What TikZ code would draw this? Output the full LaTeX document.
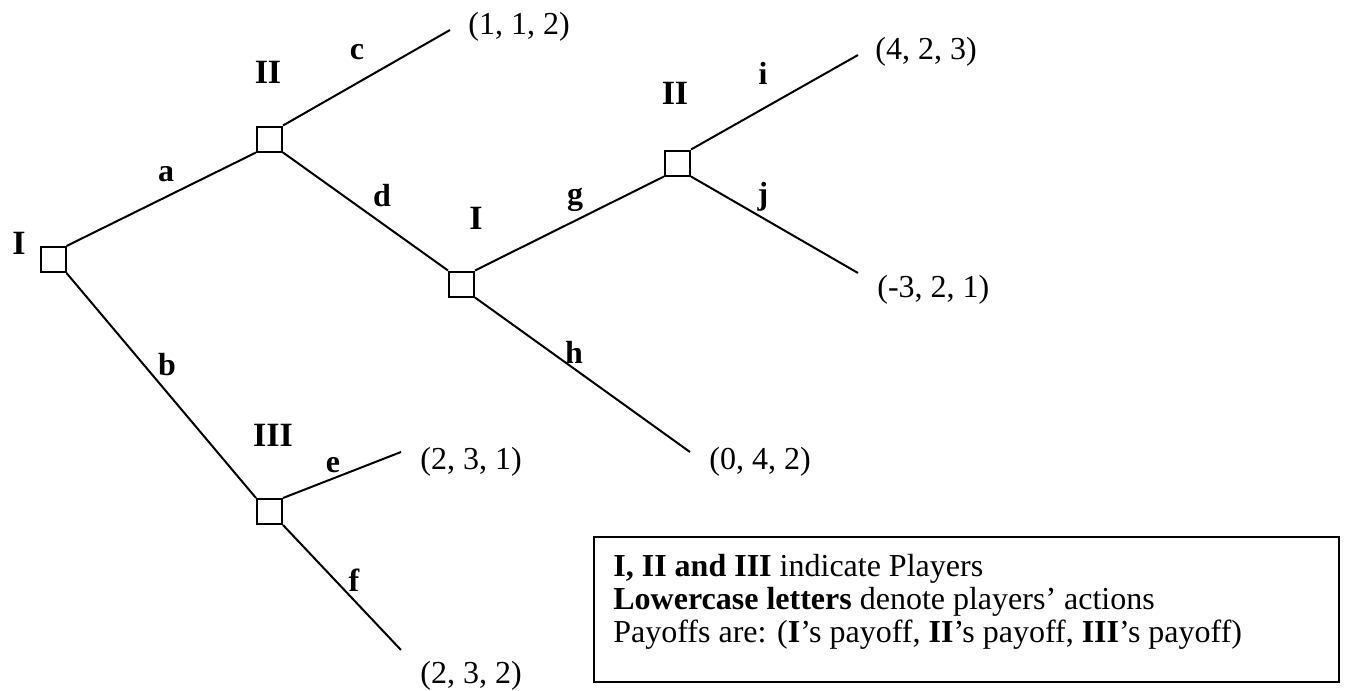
\documentclass[tikz,border=0pt]{standalone}
\usepackage{fontspec}
\setmainfont{Liberation Serif}

\tikzstyle{decision} = [rectangle, minimum size=12.5pt, inner sep=0pt, draw=black, line width=1pt, fill=white]
\tikzstyle{player} = [font=\bfseries\fontsize{17}{20}\selectfont, inner sep=0pt]
\tikzstyle{action} = [font=\bfseries\fontsize{16}{19}\selectfont, inner sep=0pt]
\tikzstyle{payoff} = [font=\fontsize{16}{19}\selectfont, inner sep=0pt, anchor=west]
\tikzstyle{legend} = [rectangle, draw=black, line width=1pt, minimum width=372.5pt, minimum height=72.5pt, inner sep=0pt]
\tikzstyle{legendtext} = [font=\fontsize{16}{16.5}\selectfont, inner sep=0pt, align=left, anchor=north west]
\tikzstyle{branch} = [line width=1pt]

\begin{document}
\begin{tikzpicture}[x=0.5pt, y=-0.5pt]
			\useasboundingbox (0,0) rectangle (1345,691);
			% decision nodes
			\node (root) [decision] at (53,259.5) {};
			\node (nodeII) [decision] at (269.5,139) {};
			\node (nodeIII) [decision] at (269.5,511.5) {};
			\node (nodeI) [decision] at (461.5,284) {};
			\node (nodeIIright) [decision] at (677.5,163) {};
			% ends of the last branches
			\coordinate (endC) at (450,30);
			\coordinate (endE) at (401,452);
			\coordinate (endF) at (401,650);
			\coordinate (endH) at (690,452);
			\coordinate (endI) at (858,55);
			\coordinate (endJ) at (858,273);
			% players
			\node (playerRoot) [player] at (19,243) {I};
			\node (playerII) [player] at (268,72) {II};
			\node (playerIII) [player] at (273,435) {III};
			\node (playerI) [player] at (476,218) {I};
			\node (playerIIright) [player] at (675,93) {II};
			% actions
			\node (actionA) [action] at (166,174) {a};
			\node (actionB) [action] at (167,365) {b};
			\node (actionC) [action] at (357,52) {c};
			\node (actionD) [action] at (382,196) {d};
			\node (actionE) [action] at (333,465) {e};
			\node (actionF) [action] at (354,580) {f};
			\node (actionG) [action] at (575,200) {g};
			\node (actionH) [action] at (574,352) {h};
			\node (actionI) [action] at (763,73) {i};
			\node (actionJ) [action] at (763,197) {j};
			% payoffs
			\node (payoffC) [payoff] at (468,27) {(1, 1, 2)};
			\node (payoffI) [payoff] at (875,52) {(4, 2, 3)};
			\node (payoffJ) [payoff] at (877,290) {(-3, 2, 1)};
			\node (payoffH) [payoff] at (709,462) {(0, 4, 2)};
			\node (payoffE) [payoff] at (420,462) {(2, 3, 1)};
			\node (payoffF) [payoff] at (420,676) {(2, 3, 2)};
			% legend
			\node (legendFrame) [legend] at (966.5,609.5) {};
			\node (legendText) [legendtext] at (613,554) {\textbf{I, II and III} indicate Players\\
				\textbf{Lowercase letters} denote players’ actions\\
				Payoffs are: (\textbf{I}’s payoff, \textbf{II}’s payoff, \textbf{III}’s payoff)};
			
			\draw [branch] (root.north east) -- (nodeII.south west);
			\draw [branch] (root.south east) -- (nodeIII.north west);
			\draw [branch] (nodeII.north east) -- (endC);
			\draw [branch] (nodeII.south east) -- (nodeI.north west);
			\draw [branch] (nodeIII.north east) -- (endE);
			\draw [branch] (nodeIII.south east) -- (endF);
			\draw [branch] (nodeI.north east) -- (nodeIIright.south west);
			\draw [branch] (nodeI.south east) -- (endH);
			\draw [branch] (nodeIIright.north east) -- (endI);
			\draw [branch] (nodeIIright.south east) -- (endJ);
			
		\end{tikzpicture}
\end{document}
